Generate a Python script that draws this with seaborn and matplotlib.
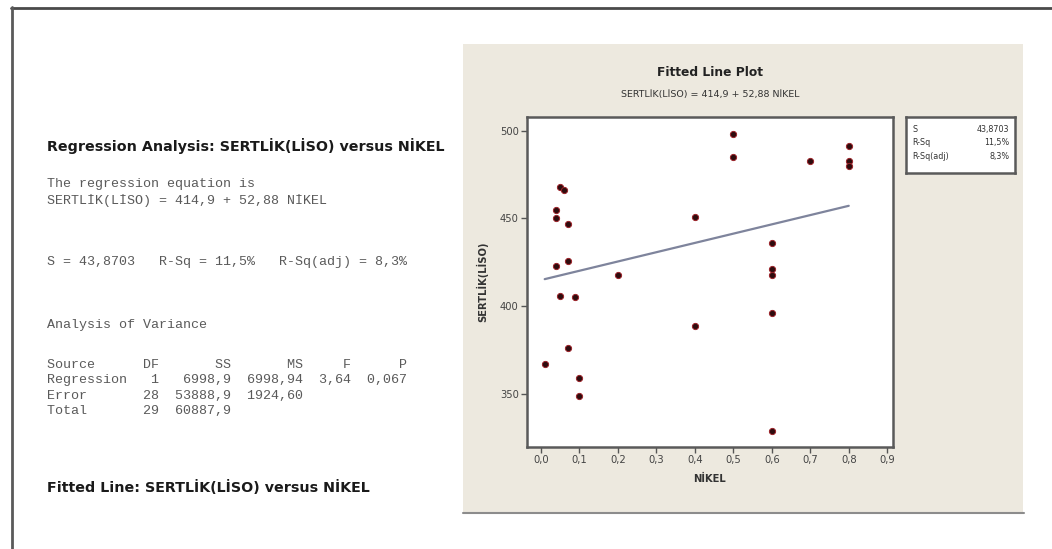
import matplotlib
matplotlib.use("Agg")
import matplotlib.pyplot as plt
import matplotlib.ticker as mticker
from matplotlib.patches import Rectangle
from matplotlib.lines import Line2D
import seaborn as sns
import pandas as pd

# values
nikel = [0.01, 0.04, 0.04, 0.04, 0.05, 0.06, 0.05, 0.07, 0.07, 0.07,
         0.09, 0.10, 0.10, 0.20, 0.40, 0.40, 0.50, 0.50, 0.60, 0.60,
         0.60, 0.60, 0.60, 0.70, 0.80, 0.80, 0.80]
sertlik = [367, 423, 455, 450, 468, 466, 406, 447, 426, 376,
           405, 359, 349, 418, 451, 389, 498, 485, 436, 421,
           418, 396, 329, 483, 491, 483, 480]
intercept = 414.9
slope = 52.88
x_ticks = [0.0, 0.1, 0.2, 0.3, 0.4, 0.5, 0.6, 0.7, 0.8, 0.9]
y_ticks = [350, 400, 450, 500]
stats_labels = ["S", "R-Sq", "R-Sq(adj)"]
stats_values = ["43,8703", "11,5%", "8,3%"]

anova_lines = [
    "Source      DF       SS       MS     F      P",
    "Regression   1   6998,9  6998,94  3,64  0,067",
    "Error       28  53888,9  1924,60",
    "Total       29  60887,9",
]

sns.set_theme(style="white")
plt.rcParams["font.family"] = ["DejaVu Sans"]

W, H = 1052, 549
fig = plt.figure(figsize=(W / 100, H / 100), dpi=100)
fig.patch.set_facecolor("white")


def fx(px):
    return px / W


def fy(py):
    return 1 - py / H


# page border
fig.add_artist(Line2D([fx(11), 1], [fy(7.5), fy(7.5)], color="#4a4a4a", lw=2))
fig.add_artist(Line2D([fx(11.5), fx(11.5)], [fy(7), 0], color="#5a5a5a", lw=2))

# beige minitab panel
fig.add_artist(Rectangle((fx(463), fy(513)), fx(1023) - fx(463), fy(44) - fy(513),
                         transform=fig.transFigure, facecolor="#ede9df",
                         edgecolor="none", zorder=0))
fig.add_artist(Line2D([fx(463), fx(1024)], [fy(513), fy(513)], color="#8c8c8c", lw=1.5))

# left session text
bold_kw = dict(fontsize=10.3, fontweight="bold", color="#1a1a1a", va="center")
mono_kw = dict(fontsize=9.6, family="Liberation Mono", color="#5a5a5a", va="center")
fig.text(fx(47), fy(146), "Regression Analysis: SERTLİK(LİSO) versus NİKEL", **bold_kw)
fig.text(fx(47), fy(184), "The regression equation is", **mono_kw)
fig.text(fx(47), fy(201), "SERTLİK(LİSO) = 414,9 + 52,88 NİKEL", **mono_kw)
fig.text(fx(47), fy(262), "S = 43,8703   R-Sq = 11,5%   R-Sq(adj) = 8,3%", **mono_kw)
fig.text(fx(47), fy(325), "Analysis of Variance", **mono_kw)
for i, line in enumerate(anova_lines):
    fig.text(fx(47), fy(365 + i * 15.5), line, **mono_kw)
fig.text(fx(47), fy(487), "Fitted Line: SERTLİK(LİSO) versus NİKEL", **bold_kw)

# fitted line plot
ax = fig.add_axes([fx(527), fy(447), fx(893) - fx(527), fy(117) - fy(447)])
ax.set_facecolor("white")
df = pd.DataFrame({"NİKEL": nikel, "SERTLİK(LİSO)": sertlik})
fit = pd.DataFrame({"x": [min(nikel), max(nikel)]})
fit["y"] = intercept + slope * fit["x"]

sns.lineplot(data=fit, x="x", y="y", ax=ax, color="#7e849c", lw=1.6, zorder=2)
sns.scatterplot(data=df, x="NİKEL", y="SERTLİK(LİSO)", ax=ax, s=20,
                color="#2e0c0e", edgecolor="#9c2228", linewidth=0.7, zorder=3)

ax.set_xlim(-0.036, 0.915)
ax.set_ylim(319.8, 507.8)
ax.set_xticks(x_ticks)
ax.set_yticks(y_ticks)
ax.xaxis.set_major_formatter(mticker.FuncFormatter(lambda v, p: f"{v:.1f}".replace(".", ",")))
ax.tick_params(axis="both", which="major", direction="out", length=4, width=1,
               color="#555555", labelsize=7.2, labelcolor="#444444", pad=2,
               bottom=True, left=True)
for sp in ax.spines.values():
    sp.set_color("#5a5a5a")
    sp.set_linewidth(1.8)

ax.set_xlabel("NİKEL", fontsize=7.2, fontweight="bold", color="#333333", labelpad=6)
ax.set_ylabel("SERTLİK(LİSO)", fontsize=7.2, fontweight="bold", color="#333333", labelpad=8)

fig.text(fx(710), fy(73), "Fitted Line Plot", fontsize=8.8, fontweight="bold",
         color="#222222", ha="center", va="center")
fig.text(fx(710), fy(94), "SERTLİK(LİSO) = 414,9 + 52,88 NİKEL", fontsize=6.8,
         color="#333333", ha="center", va="center")

# summary box
lax = fig.add_axes([fx(906), fy(173), fx(1015) - fx(906), fy(117) - fy(173)])
lax.set_xticks([])
lax.set_yticks([])
lax.set_facecolor("white")
for sp in lax.spines.values():
    sp.set_color("#5a5a5a")
    sp.set_linewidth(1.8)
for i, (lab, val) in enumerate(zip(stats_labels, stats_values)):
    yy = 0.78 - i * 0.24
    lax.text(0.06, yy, lab, fontsize=5.8, color="#333333", va="center", transform=lax.transAxes)
    lax.text(0.95, yy, val, fontsize=5.8, color="#333333", va="center", ha="right",
             transform=lax.transAxes)

fig.savefig("out.png", dpi=100)
